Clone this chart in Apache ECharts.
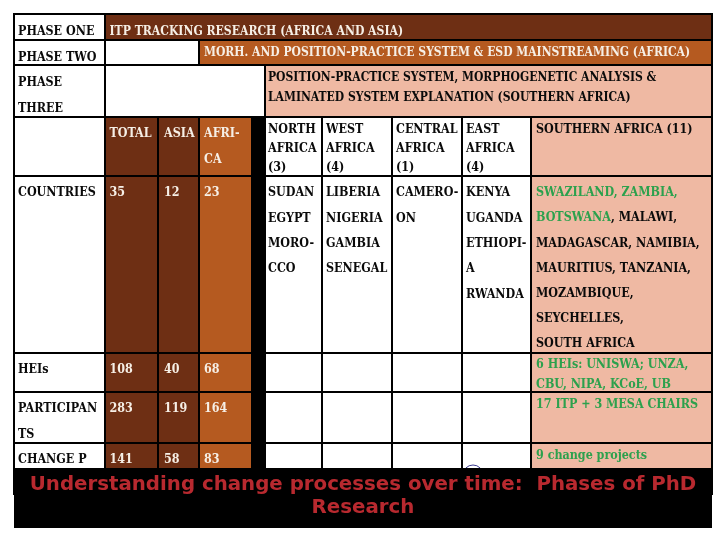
<!DOCTYPE html>
<html><head><meta charset="utf-8"><style>html,body{margin:0;padding:0;background:#fff}#c{width:720px;height:540px}</style>
<script src="https://cdn.jsdelivr.net/npm/echarts@6/dist/echarts.min.js"></script></head><body><div id="c"></div>
<script>
// ---- content ----
const phaseLabels = [['PHASE ONE'], ['PHASE TWO'], ['PHASE', 'THREE']];
const phaseOneText = ['ITP TRACKING RESEARCH (AFRICA AND ASIA)'];
const phaseTwoText = ['MORH. AND POSITION-PRACTICE SYSTEM & ESD MAINSTREAMING (AFRICA)'];
const phaseThreeText = ['POSITION-PRACTICE SYSTEM, MORPHOGENETIC ANALYSIS &', 'LAMINATED SYSTEM EXPLANATION (SOUTHERN AFRICA)'];
const splitHeaders = [['TOTAL'], ['ASIA'], ['AFRI-', 'CA']];
const regionHeaders = [['NORTH', 'AFRICA', '(3)'], ['WEST', 'AFRICA', '(4)'], ['CENTRAL', 'AFRICA', '(1)'], ['EAST', 'AFRICA', '(4)'], ['SOUTHERN AFRICA (11)']];
const measureLabels = [['COUNTRIES'], ['HEIs'], ['PARTICIPAN', 'TS'], ['CHANGE P']];
const totals = [35, 108, 283, 141];
const asia = [12, 40, 119, 58];
const africa = [23, 68, 164, 83];
const northAfrica = ['SUDAN', 'EGYPT', 'MORO-', 'CCO'];
const westAfrica = ['LIBERIA', 'NIGERIA', 'GAMBIA', 'SENEGAL'];
const centralAfrica = ['CAMERO-', 'ON'];
const eastAfrica = ['KENYA', 'UGANDA', 'ETHIOPI-', 'A', 'RWANDA'];
const southernAfrica = ['{g|SWAZILAND, ZAMBIA,}', '{g|BOTSWANA}{k|, MALAWI,}', '{k|MADAGASCAR, NAMIBIA,}', '{k|MAURITIUS, TANZANIA,}', '{k|MOZAMBIQUE,}', '{k|SEYCHELLES,}', '{k|SOUTH AFRICA}'];
const southernHeis = ['6 HEIs: UNISWA; UNZA,', 'CBU, NIPA, KCoE, UB'];
const southernParticipants = ['17 ITP + 3 MESA CHAIRS'];
const southernProjects = ['9 change projects'];
const titleLines = ['Understanding change processes over time:  Phases of PhD', 'Research'];

// ---- table layout ----
const colX = [14, 105, 158, 199, 251, 265, 322, 392, 462, 531, 712];
const colPad = [4, 4.5, 6, 5, 0, 3, 4, 4, 4, 5];
const rowY = [14, 40, 65, 117, 176, 353, 392, 443, 468];
const DARK = '#6e2f14', MID = '#b55a20', PINK = '#efb9a3', GREEN = '#2ca14d', INK = '#0a0a0a', RED = '#b8292f';

const fills = [
  [1, 10, 0, 1, DARK], [3, 10, 1, 2, MID], [5, 10, 2, 3, PINK],
  [1, 2, 3, 8, DARK], [2, 3, 3, 8, DARK], [3, 4, 3, 8, MID], [4, 5, 3, 8, '#000'], [9, 10, 3, 8, PINK]
];
const rules = [
  [0, 10, 0, 0], [0, 10, 1, 1], [0, 10, 2, 2], [0, 10, 3, 3], [0, 10, 4, 4], [0, 10, 5, 5], [0, 10, 6, 6], [0, 10, 7, 7],
  [0, 0, 0, 8], [10, 10, 0, 8], [1, 1, 0, 8], [3, 3, 1, 2], [2, 2, 3, 8], [3, 3, 3, 8], [5, 5, 2, 8],
  [6, 6, 3, 8], [7, 7, 3, 8], [8, 8, 3, 8], [9, 9, 3, 8]
];

const texts = [];
function put(col, row, lines, dy, gap, color, font) {
  lines.forEach((t, i) => texts.push([colX[col] + colPad[col], rowY[row] + dy + i * gap, String(t), color, font || BODY]));
}
const fontOf = s => 'bold ' + s + 'px "DejaVu Serif Condensed", "DejaVu Serif", serif';
const BODY = fontOf(12.4);
const LIGHT = '#f6efe6';
put(0, 0, phaseLabels[0], 18, 0, INK); put(0, 1, phaseLabels[1], 18, 0, INK); put(0, 2, phaseLabels[2], 18, 26, INK);
put(1, 0, phaseOneText, 18, 0, LIGHT, fontOf(12.1)); put(3, 1, phaseTwoText, 13, 0, LIGHT, fontOf(12)); put(5, 2, phaseThreeText, 13, 20, INK, fontOf(12));
splitHeaders.forEach((h, i) => put(1 + i, 3, h, 17, 26, LIGHT));
[5, 6, 7, 8].forEach((c, i) => put(c, 3, regionHeaders[i], 13, 19, INK));
put(9, 3, regionHeaders[4], 13, 19, INK);
[4, 5, 6, 7].forEach((r, i) => {
  put(0, r, measureLabels[i], 17, 26, INK);
  put(1, r, [totals[i]], 17, 0, LIGHT); put(2, r, [asia[i]], 17, 0, LIGHT); put(3, r, [africa[i]], 17, 0, LIGHT);
});
put(5, 4, northAfrica, 17, 25.4, INK); put(6, 4, westAfrica, 17, 25.4, INK); put(7, 4, centralAfrica, 17, 25.4, INK); put(8, 4, eastAfrica, 17, 25.4, INK);
put(9, 4, southernAfrica, 17, 25.2, INK);
put(9, 5, southernHeis, 12, 20, GREEN); put(9, 6, southernParticipants, 13, 0, GREEN); put(9, 7, southernProjects, 13, 0, GREEN);

const rich = { g: { fill: GREEN, font: BODY }, k: { fill: INK, font: BODY } };
const band = [[13, 713, 468, 495], [14, 712, 495, 528]];
const chart = echarts.init(document.getElementById('c'), null, { renderer: 'canvas' });
chart.setOption({
  animation: false, backgroundColor: '#fff',
  grid: { left: 0, right: 0, top: 0, bottom: 0 },
  xAxis: { type: 'value', min: 0, max: 720, show: false },
  yAxis: { type: 'value', min: 0, max: 540, inverse: true, show: false },
  series: [
    { type: 'custom', coordinateSystem: 'cartesian2d', silent: true, clip: false, z: 1,
      data: fills.map(f => [colX[f[0]], rowY[f[2]], colX[f[1]], rowY[f[3]], f[4]]),
      renderItem: (p, api) => {
        const a = api.coord([api.value(0), api.value(1)]), b = api.coord([api.value(2), api.value(3)]);
        return { type: 'rect', shape: { x: a[0], y: a[1], width: b[0] - a[0], height: b[1] - a[1] }, style: { fill: fills[p.dataIndex][4] } };
      } },
    { type: 'custom', coordinateSystem: 'cartesian2d', silent: true, clip: false, z: 2,
      data: rules.map(r => [colX[r[0]], rowY[r[2]], colX[r[1]], rowY[r[3]]]),
      renderItem: (p, api) => {
        const a = api.coord([api.value(0), api.value(1)]), b = api.coord([api.value(2), api.value(3)]);
        return { type: 'line', shape: { x1: a[0], y1: a[1], x2: b[0], y2: b[1] }, style: { stroke: '#000', lineWidth: 2, lineCap: 'square' } };
      } },
    { type: 'custom', coordinateSystem: 'cartesian2d', silent: true, clip: false, z: 3,
      data: texts.map(t => [t[0], t[1]]),
      renderItem: (p, api) => {
        const a = api.coord([api.value(0), api.value(1)]), t = texts[p.dataIndex];
        return { type: 'text', x: a[0], y: a[1], style: { text: t[2], rich, font: t[4], fill: t[3], align: 'left', verticalAlign: 'middle' } };
      } },
    { type: 'custom', coordinateSystem: 'cartesian2d', silent: true, clip: false, z: 4,
      data: [[473, 475]],
      renderItem: (p, api) => {
        const a = api.coord([api.value(0), api.value(1)]);
        return { type: 'circle', shape: { cx: a[0], cy: a[1], r: 10 }, style: { fill: 'none', stroke: '#3b3b8f', lineWidth: 1 } };
      } },
    { type: 'custom', coordinateSystem: 'cartesian2d', silent: true, clip: false, z: 5,
      data: band,
      renderItem: (p, api) => {
        const a = api.coord([api.value(0), api.value(2)]), b = api.coord([api.value(1), api.value(3)]);
        return { type: 'rect', shape: { x: a[0], y: a[1], width: b[0] - a[0], height: b[1] - a[1] }, style: { fill: '#000' } };
      } },
    { type: 'custom', coordinateSystem: 'cartesian2d', silent: true, clip: false, z: 6,
      data: [[363, 485], [363, 508]],
      renderItem: (p, api) => {
        const a = api.coord([api.value(0), api.value(1)]);
        return { type: 'text', x: a[0], y: a[1], style: { text: titleLines[p.dataIndex], font: 'bold 19.8px "DejaVu Sans", sans-serif', fill: RED, align: 'center', verticalAlign: 'middle' } };
      } }
  ]
});
</script></body></html>
